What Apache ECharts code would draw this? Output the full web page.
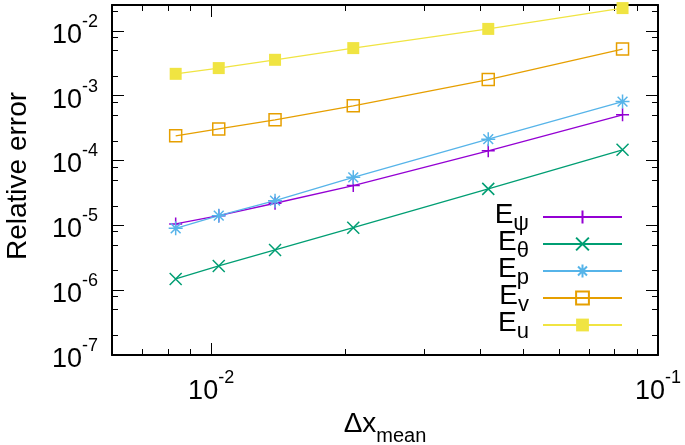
<!DOCTYPE html>
<html>
<head>
<meta charset="utf-8">
<script src="https://cdn.jsdelivr.net/npm/echarts@6/dist/echarts.min.js"></script>
<style>html,body{margin:0;padding:0;background:#fff;}#c{width:685px;height:445px;}</style>
</head>
<body>
<div id="c"></div>
<script>
// ---- data ----
const xValues = [0.00833, 0.0104, 0.0139, 0.0208, 0.0417, 0.0833];
const ePsi   = [1.05e-5, 1.41e-5, 2.19e-5, 4.1e-5, 1.41e-4, 5.06e-4];
const eTheta = [1.49e-6, 2.36e-6, 4.17e-6, 9.2e-6, 3.65e-5, 1.46e-4];
const eP     = [9.0e-6, 1.41e-5, 2.4e-5, 5.5e-5, 2.13e-4, 8.1e-4];
const eV     = [2.4e-4, 3.07e-4, 4.23e-4, 6.96e-4, 1.77e-3, 5.22e-3];
const eU     = [2.17e-3, 2.66e-3, 3.57e-3, 5.41e-3, 1.07e-2, 2.24e-2];
const seriesNames = ['Eψ', 'Eθ', 'Ep', 'Ev', 'Eu'];
const legendSubs = ['ψ', 'θ', 'p', 'v', 'u'];
const xMajorTicks = [0.01, 0.1];
const xMinorTicks = [0.007, 0.008, 0.009, 0.02, 0.03, 0.04, 0.05, 0.06, 0.07, 0.08, 0.09];
const yMajorTicks = [1e-7, 1e-6, 1e-5, 1e-4, 1e-3, 1e-2];
const yMinorTicks = [2e-7, 5e-7, 8e-7, 2e-6, 5e-6, 8e-6, 2e-5, 5e-5, 8e-5, 2e-4, 5e-4, 8e-4, 2e-3, 5e-3, 8e-3, 2e-2];
const xRange = [0.006, 0.1];
const yRange = [1e-7, 0.025];

// ---- styles ----
const FONT = 'Liberation Sans, Arial, Helvetica, sans-serif';
const colors = ['#9400d3', '#009e73', '#56b4e9', '#e69f00', '#f0e442'];
const gridPos = { left: 112, top: 5, width: 546, height: 350, containLabel: false, outerBoundsMode: 'none' };

const expLabel = v => '{b|10}{s|' + Math.round(Math.log10(v)) + '}';
const labelRich = {
  b: { fontSize: 27, fontFamily: FONT, color: '#000', lineHeight: 36, verticalAlign: 'bottom' },
  s: { fontSize: 18, fontFamily: FONT, color: '#000', lineHeight: 20, verticalAlign: 'top' }
};

function mkAxis(dim, gridIndex, position, ticks, len, showLabel, showLine, extra) {
  const range = dim === 'x' ? xRange : yRange;
  return Object.assign({
    type: 'log', gridIndex: gridIndex, position: position,
    min: range[0], max: range[1], logBase: 10,
    axisLine: { show: showLine, lineStyle: { color: '#000', width: 2 } },
    axisTick: { show: true, inside: true, length: len, customValues: ticks, lineStyle: { color: '#000', width: 1 } },
    axisLabel: showLabel ? { show: true, customValues: ticks, formatter: expLabel, rich: labelRich, margin: 14 } : { show: false },
    splitLine: { show: false },
    minorTick: { show: false }, minorSplitLine: { show: false }
  }, extra || {});
}

const grids = [Object.assign({}, gridPos), Object.assign({}, gridPos)];

const xAxes = [
  mkAxis('x', 0, 'bottom', xMajorTicks, 12, true, true, {
    name: '{a|Δx}{m|mean}', nameLocation: 'middle', nameGap: 46,
    nameTextStyle: { rich: {
      a: { fontSize: 28, fontFamily: FONT, color: '#000', verticalAlign: 'top' },
      m: { fontSize: 20, fontFamily: FONT, color: '#000', lineHeight: 37, verticalAlign: 'bottom' }
    } }
  }),
  mkAxis('x', 0, 'top', xMajorTicks, 12, false, true),
  mkAxis('x', 1, 'bottom', xMinorTicks, 6, false, false),
  mkAxis('x', 1, 'top', xMinorTicks, 6, false, false)
];
const yAxes = [
  mkAxis('y', 0, 'left', yMajorTicks, 12, true, true, {
    name: 'Relative error', nameLocation: 'middle', nameGap: 80, nameRotate: 90,
    nameTextStyle: { fontSize: 28, fontFamily: FONT, color: '#000', padding: [0, 0, 0, 8] }
  }),
  mkAxis('y', 0, 'right', yMajorTicks, 12, false, true),
  mkAxis('y', 1, 'left', yMinorTicks, 6, false, false),
  mkAxis('y', 1, 'right', yMinorTicks, 6, false, false)
];

const symbols = [
  'path://M0,5L10,5M5,0L5,10',
  'path://M0,0L10,10M0,10L10,0',
  'path://M0,5L10,5M5,0L5,10M1.5,1.5L8.5,8.5M1.5,8.5L8.5,1.5',
  'rect',
  'rect'
];
const symbolSizes = [13, 12, 14, 12, 12];
const dataSets = [ePsi, eTheta, eP, eV, eU];

const series = dataSets.map((vals, i) => {
  const filled = i === 4;
  const open = i === 3;
  return {
    name: seriesNames[i], type: 'line',
    xAxisIndex: 0, yAxisIndex: 0,
    data: xValues.map((x, j) => [x, vals[j]]),
    symbol: symbols[i], symbolSize: symbolSizes[i], showAllSymbol: true,
    clip: false,
    lineStyle: { color: colors[i], width: 1.3 },
    itemStyle: filled ? { color: colors[i], borderWidth: 0 }
      : { color: open ? 'rgba(255,255,255,0)' : colors[i], borderColor: colors[i], borderWidth: 1.5 },
    emphasis: { disabled: true },
    animation: false
  };
});

const chart = echarts.init(document.getElementById('c'), null, { renderer: 'canvas' });
chart.setOption({
  animation: false,
  backgroundColor: '#fff',
  grid: grids,
  xAxis: xAxes,
  yAxis: yAxes,
  legend: {
    orient: 'vertical', right: 62, top: 201, align: 'right', padding: 0,
    itemWidth: 79, itemHeight: 16, itemGap: -7,
    data: seriesNames,
    formatter: name => '{e|E}{s|' + legendSubs[seriesNames.indexOf(name)] + '}{z| }',
    textStyle: { rich: {
      e: { fontSize: 28, fontFamily: FONT, color: '#000', verticalAlign: 'top', padding: [2, 0, 0, 0] },
      s: { fontSize: 22, fontFamily: FONT, color: '#000', verticalAlign: 'bottom' },
      z: { fontSize: 1, fontFamily: FONT, color: '#000', lineHeight: 36, width: 9 }
    } },
    selectedMode: false
  },
  series: series
});
</script>
</body>
</html>
